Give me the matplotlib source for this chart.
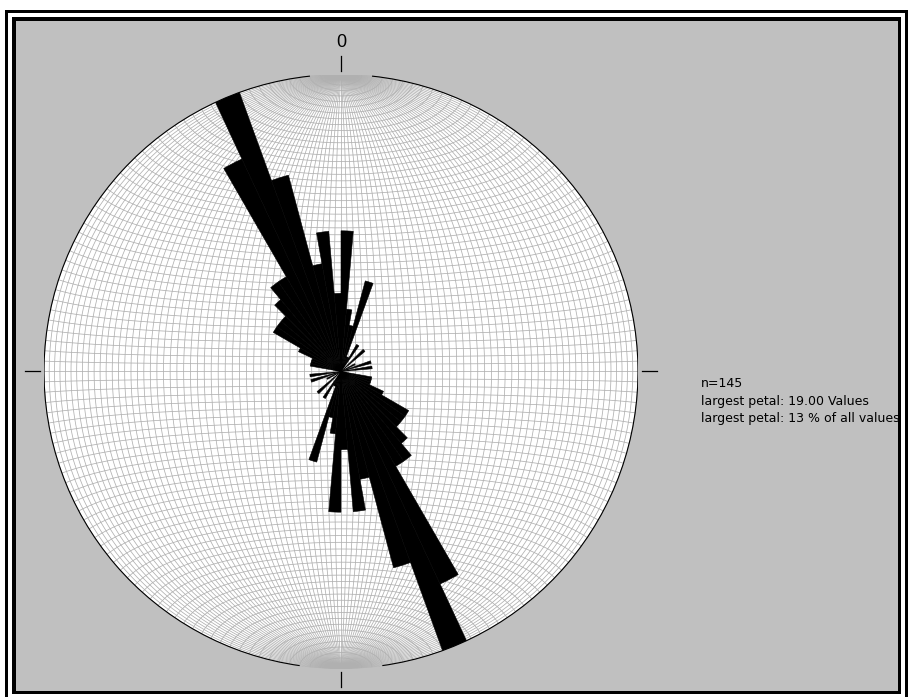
import numpy as np
import matplotlib.pyplot as plt
from matplotlib.collections import LineCollection
from matplotlib.patches import Rectangle, Circle, Arc

# rose diagram, 5 degree classes, axial data (each class also drawn at +180)
class_start = np.arange(0, 180, 5)
counts = [9, 4, 3, 6, 1, 1, 2, 0, 0, 2,
          0, 0, 1, 0, 2, 0, 2, 0, 0, 0,
          2, 2, 2, 3, 5, 5, 5, 6, 7, 7,
          15, 19, 13, 7, 9, 5]
largest = 19
info = ["n=145", "largest petal: 19.00 Values", "largest petal: 13 % of all values"]

W, H = 912, 697
cx, cy, R = 341, 371.5, 297  # net centre / radius in pixels (from top-left)

plt.rcParams['font.family'] = ['Liberation Sans', 'DejaVu Sans']

fig = plt.figure(figsize=(W / 100, H / 100), dpi=100)
fig.patch.set_facecolor('white')


def frame_rect(x0, y0, x1, y1, color):
    fig.add_artist(Rectangle((x0 / W, 1 - y1 / H), (x1 - x0) / W, (y1 - y0) / H,
                             transform=fig.transFigure, facecolor=color,
                             edgecolor='none', zorder=0))


# double window frame
frame_rect(5, 10, 908, 700, 'black')
frame_rect(8, 13, 905, 700, 'white')
frame_rect(12, 17, 901, 694, 'black')
frame_rect(16, 21, 898, 691, '#c0c0c0')

box = [(cx - R) / W, (H - cy - R) / H, 2 * R / W, 2 * R / H]

# --- Schmidt net (equal area), 2 degree grid ---
ax = fig.add_axes(box)
ax.set_xlim(-1, 1)
ax.set_ylim(-1, 1)
ax.set_aspect('equal')
ax.axis('off')
ax.add_patch(Circle((0, 0), 1, facecolor='white', edgecolor='none', zorder=0))


def schmidt(lam, phi):
    d = np.sqrt(1 + np.cos(phi) * np.cos(lam))
    return np.cos(phi) * np.sin(lam) / d, np.sin(phi) / d


segs = []
dense = np.deg2rad(np.linspace(-90, 90, 361))
for step in np.arange(-90, 91, 2):
    a = np.deg2rad(step)
    x, y = schmidt(np.full_like(dense, a), dense)
    segs.append(np.column_stack([x, y]))
    if abs(step) < 90:
        x, y = schmidt(dense, np.full_like(dense, a))
        segs.append(np.column_stack([x, y]))
ax.add_collection(LineCollection(segs, colors='#b0b0b0', linewidths=0.55, zorder=1))

# primitive circle (open near the poles)
ax.add_patch(Arc((0, 0), 2, 2, theta1=96, theta2=262, color='black', lw=0.8, zorder=3))
ax.add_patch(Arc((0, 0), 2, 2, theta1=-82, theta2=84, color='black', lw=0.8, zorder=3))

# cardinal ticks
for tx, ty in [(0, 1), (0, -1), (1, 0), (-1, 0)]:
    ax.plot([tx * 1.012, tx * 1.063], [ty * 1.012, ty * 1.063], color='black', lw=0.9,
            clip_on=False, zorder=3)
ax.text(0, 1.108, '0', ha='center', va='center', fontsize=13, clip_on=False)

# --- petals ---
pax = fig.add_axes(box, projection='polar')
pax.set_theta_zero_location('N')
pax.set_theta_direction(-1)
pax.set_ylim(0, largest)
pax.axis('off')
theta = np.deg2rad(np.concatenate([class_start + 2.5, class_start + 182.5]))
heights = counts + counts
pax.bar(theta, heights, width=np.deg2rad(5), bottom=0, color='black',
        edgecolor='black', linewidth=0.4)

# statistics text
for i, line in enumerate(info):
    fig.text(701 / W, 1 - (387 + 17.5 * i) / H, line, fontsize=9, ha='left',
             va='baseline', family=['DejaVu Sans'])

fig.savefig('out.png', dpi=100, facecolor=fig.get_facecolor())
